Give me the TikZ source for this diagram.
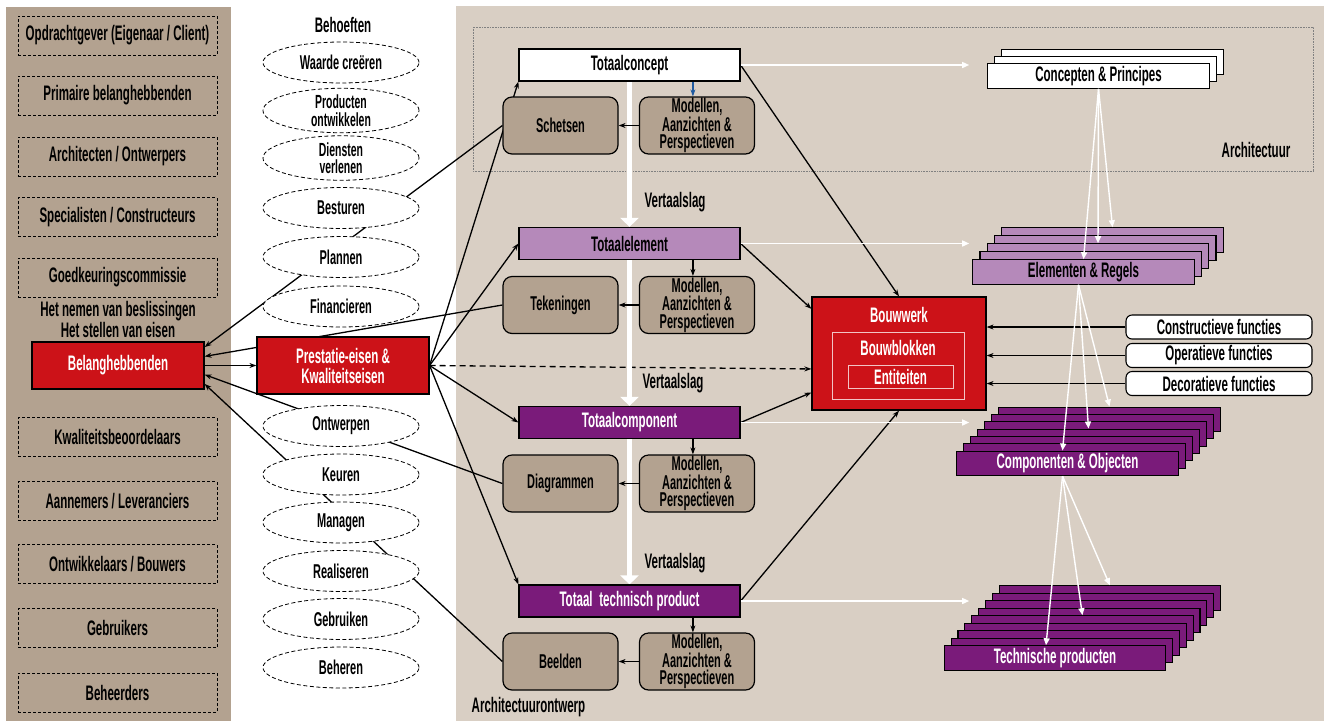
\documentclass[tikz,border=0pt]{standalone}
\usepackage{fontspec}
\setmainfont{Liberation Sans}[FakeStretch=0.55]
\usetikzlibrary{shapes.geometric,arrows.meta,positioning}
\definecolor{panelbrown}{RGB}{179,162,144}
\definecolor{panelbeige}{RGB}{217,207,196}
\definecolor{bouwred}{RGB}{204,18,24}
\definecolor{lilac}{RGB}{181,137,186}
\definecolor{plum}{RGB}{122,27,122}
\definecolor{linkblue}{RGB}{30,90,160}
\pgfdeclarelayer{panel}
\pgfdeclarelayer{wires}
\pgfsetlayers{panel,wires,main}

\begin{document}
\begin{tikzpicture}[
    x=1pt, y=-1pt,
    every node/.style={font=\bfseries\fontsize{21}{17}\selectfont, inner sep=0pt, align=center},
    rolebox/.style={rectangle, draw, line width=0.8pt, dash pattern=on 3pt off 2pt, minimum width=199, minimum height=39},
    need/.style={ellipse, draw, fill=white, line width=0.8pt, dash pattern=on 4pt off 2.5pt, minimum width=156, minimum height=41, font=\bfseries\fontsize{20}{16.5}\selectfont},
    needtwo/.style={need, font=\bfseries\fontsize{19}{17.5}\selectfont},
    redbox/.style={rectangle, draw, line width=1.2pt, fill=bouwred, text=white},
    totaal/.style={rectangle, draw, line width=1.2pt, minimum width=221, minimum height=32},
    sketch/.style={rectangle, rounded corners=9pt, draw, line width=1.2pt, fill=panelbrown, minimum width=115, minimum height=57, font=\bfseries\fontsize{20}{17.5}\selectfont},
    stackbox/.style={rectangle, draw, line width=1.1pt, minimum width=221.5, minimum height=24.5},
    funcbox/.style={rectangle, rounded corners=6pt, draw, line width=1.1pt, fill=white, minimum width=186, minimum height=24},
    arrow/.style={-{Stealth[length=7pt,width=5pt]}, line width=1.3pt},
    whitearrow/.style={-{Triangle[length=7pt,width=6pt]}, line width=1.4pt, white},
    slagarrow/.style={-{Triangle[length=9pt,width=18pt]}, line width=5.5pt, white}
]
\useasboundingbox (0,0) rectangle (1324,721);

\begin{pgfonlayer}{panel}
  \fill[white] (0,0) rectangle (1324,721);
  \fill[panelbrown] (6,7) rectangle (231,721);
  \fill[panelbeige] (455.5,6) rectangle (1324,721);
  \draw[gray, line width=0.6pt, densely dotted] (473,27) rectangle (1313,171);
\end{pgfonlayer}

% belanghebbenden
\node[rolebox] (opd) at (117.5,35.5) {Opdrachtgever (Eigenaar / Client)};
\node[rolebox] (prim) at (117.5,95.5) {Primaire belanghebbenden};
\node[rolebox] (arch) at (117.5,156.5) {Architecten / Ontwerpers};
\node[rolebox] (spec) at (117.5,217) {Specialisten / Constructeurs};
\node[rolebox] (goed) at (117.5,277.5) {Goedkeuringscommissie};
\node (besl) at (118,319.5) {Het nemen van beslissingen\\Het stellen van eisen};
\node[redbox, minimum width=172, minimum height=47] (belang) at (118,365.5) {Belanghebbenden};
\node[rolebox] (kwal) at (117.5,437) {Kwaliteitsbeoordelaars};
\node[rolebox] (aann) at (117.5,501) {Aannemers / Leveranciers};
\node[rolebox] (ontwik) at (117.5,564) {Ontwikkelaars / Bouwers};
\node[rolebox] (gebr) at (117.5,628) {Gebruikers};
\node[rolebox] (beh) at (117.5,692.5) {Beheerders};

% behoeften
\node (behoeften) at (343,25) {Behoeften};
\node[need] (waarde) at (341,62.5) {Waarde creëren};
\node[needtwo] (prod) at (341,110.5) {Producten\\ontwikkelen};
\node[needtwo] (dienst) at (341,158) {Diensten\\verlenen};
\node[need] (best) at (341,208) {Besturen};
\node[need] (plan) at (341,257) {Plannen};
\node[need] (fin) at (341,306.5) {Financieren};
\node[redbox, minimum width=172, minimum height=57, font=\bfseries\fontsize{21}{20}\selectfont] (pe) at (343,365.5) {Prestatie-eisen \&\\Kwaliteitseisen};
\node[need] (ontwerp) at (341,426) {Ontwerpen};
\node[need] (keur) at (341,474.5) {Keuren};
\node[need] (manag) at (341,522.5) {Managen};
\node[need] (real) at (341,571) {Realiseren};
\node[need] (gebruik) at (341,619) {Gebruiken};
\node[need] (beheer) at (341,667.5) {Beheren};

% architectuurontwerp
\node[totaal, fill=white] (tc) at (629.5,65) {Totaalconcept};
\node[sketch] (sc) at (560.5,125.5) {Schetsen};
\node[sketch] (mo1) at (697,125.5) {Modellen,\\Aanzichten \&\\Perspectieven};
\node[totaal, fill=lilac] (te) at (629.5,243.5) {Totaalelement};
\node[sketch] (tek) at (560.5,305) {Tekeningen};
\node[sketch] (mo2) at (697,305) {Modellen,\\Aanzichten \&\\Perspectieven};
\node[totaal, fill=plum, text=white] (tk) at (629.5,422.5) {Totaalcomponent};
\node[sketch] (diag) at (560.5,483.5) {Diagrammen};
\node[sketch] (mo3) at (697,483.5) {Modellen,\\Aanzichten \&\\Perspectieven};
\node[totaal, fill=plum, text=white] (ttp) at (629.5,601) {Totaal\, technisch product};
\node[sketch] (beeld) at (560.5,661.5) {Beelden};
\node[sketch] (mo4) at (697,661.5) {Modellen,\\Aanzichten \&\\Perspectieven};
\node (vs1) at (675,202) {Vertaalslag};
\node (vs2) at (673,383) {Vertaalslag};
\node (vs3) at (675,563) {Vertaalslag};
\node (aolabel) at (528.5,707) {Architectuurontwerp};
\node (archlabel) at (1256,150) {Architectuur};

% bouwwerk
\node[redbox, minimum width=174, minimum height=113] (bw) at (899,353.5) {};
\node[text=white] (bwlabel) at (899,315) {Bouwwerk};
\node[draw=white!75!bouwred, line width=1pt, minimum width=132, minimum height=67] (bb) at (898,365.5) {};
\node[text=white] (bblabel) at (898,348) {Bouwblokken};
\node[draw=white!75!bouwred, line width=1pt, minimum width=105, minimum height=23, text=white] (ent) at (900.5,376.5) {Entiteiten};

\node[funcbox] (fcon) at (1219,327) {Constructieve functies};
\node[funcbox] (fope) at (1219,355.5) {Operatieve functies};
\node[funcbox] (fdec) at (1219,383.5) {Decoratieve functies};

% stapels
\foreach \i in {2,1}
    \node[stackbox, fill=white] (cp\i) at (1098.5+7*\i, 76-7*\i) {};
\node[stackbox, fill=white] (cp) at (1098.5,76) {Concepten \& Principes};
\foreach \i in {4,...,1}
    \node[stackbox, fill=lilac] (er\i) at (1083.5+7.25*\i, 272-8*\i) {};
\node[stackbox, fill=lilac] (er) at (1083.5,272) {Elementen \& Regels};
\foreach \i in {6,...,1}
    \node[stackbox, fill=plum] (co\i) at (1067.5+7*\i, 463.3-7.33*\i) {};
\node[stackbox, fill=plum, text=white] (co) at (1067.5,463.3) {Componenten \& Objecten};
\foreach \i in {8,...,1}
    \node[stackbox, fill=plum] (tp\i) at (1055+6.85*\i, 658-7.5*\i) {};
\node[stackbox, fill=plum, text=white] (tp) at (1055,658) {Technische producten};

\draw[whitearrow] (cp.south) -- (er.north);
\draw[whitearrow] (cp.south) -- (er2.north);
\draw[whitearrow] (cp.south) -- (er4.north);
\draw[whitearrow] ([xshift=-5pt]er.south) -- ([xshift=-5pt]co.north);
\draw[whitearrow] ([xshift=-5pt]er.south) -- (co3.north);
\draw[whitearrow] ([xshift=-5pt]er.south) -- (co6.north);
\draw[whitearrow] ([xshift=-5pt]co.south) -- ([xshift=-9pt]tp.north);
\draw[whitearrow] ([xshift=-5pt]co.south) -- (tp4.north);
\draw[whitearrow] ([xshift=-5pt]co.south) -- (tp8.north);

\begin{pgfonlayer}{wires}
  \draw[arrow] (sc.west) -- (belang.12);
  \draw[arrow] (tek.west) -- (belang.6);
  \draw[arrow] (belang.east) -- (pe.west);
  \draw[arrow] (diag.west) -- (belang.-6);
  \draw[arrow] (beeld.west) -- (belang.-12);

  \draw[arrow] (pe.east) -- (tc.south west);
  \draw[arrow] (pe.east) -- (te.west);
  \draw[arrow] (pe.east) -- (tk.west);
  \draw[arrow] (pe.east) -- (ttp.north west);
  \draw[arrow, dash pattern=on 6pt off 4pt] (pe.east) -- (bw.190);

  \draw[slagarrow] (tc.south) -- (te.north);
  \draw[slagarrow] (te.south) -- (tk.north);
  \draw[slagarrow] (tk.south) -- (ttp.north);

  \draw[arrow, linkblue] (tc.south -| mo1.98) -- (mo1.98);
  \draw[arrow] (te.south -| mo2.98) -- (mo2.98);
  \draw[arrow] (tk.south -| mo3.98) -- (mo3.98);
  \draw[arrow] (ttp.south -| mo4.98) -- (mo4.98);
  \draw[arrow] (mo1.west) -- (sc.east);
  \draw[arrow] (mo2.west) -- (tek.east);
  \draw[arrow] (mo3.west) -- (diag.east);
  \draw[arrow] (mo4.west) -- (beeld.east);

  \draw[arrow] (tc.east) -- (bw.north);
  \draw[arrow] (te.east) -- (bw.153);
  \draw[arrow] (tk.east) -- (bw.204);
  \draw[arrow] (ttp.east) -- (bw.south);

  \draw[whitearrow, shorten >=18pt] (tc.east) -- (tc.east -| cp.west);
  \draw[whitearrow, shorten >=18pt] (te.east) -- (te.east -| cp.west);
  \draw[whitearrow, shorten >=18pt] (tk.east) -- (tk.east -| cp.west);
  \draw[whitearrow, shorten >=18pt] (ttp.east) -- (ttp.east -| cp.west);

  \draw[arrow] (fcon.west) -- (fcon.west -| bw.east);
  \draw[arrow] (fope.west) -- (fope.west -| bw.east);
  \draw[arrow] (fdec.west) -- (fdec.west -| bw.east);
\end{pgfonlayer}
\end{tikzpicture}
\end{document}
